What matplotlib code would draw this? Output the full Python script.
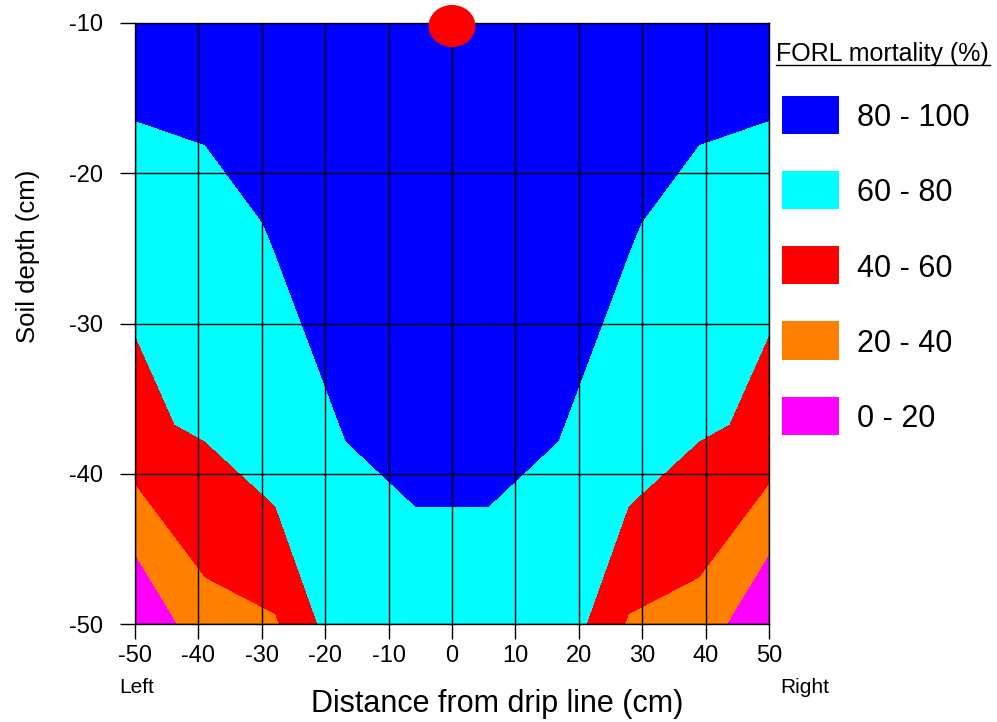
import numpy as np
import matplotlib
matplotlib.use("Agg")
import matplotlib.pyplot as plt
from matplotlib.patches import Ellipse, Rectangle
from matplotlib.lines import Line2D

plt.rcParams['font.family'] = ['Liberation Sans', 'DejaVu Sans']
plt.rcParams['axes.unicode_minus'] = False

# grid of sampling points (cm)
distance = [-50.0, -38.9, -27.8, -16.7, -5.6, 5.6, 16.7, 27.8, 38.9, 50.0]
depth = [-10.0, -23.3, -36.7, -50.0]

# FORL mortality (%), one row per depth
mort_10 = [95.1, 86.4, 92.0, 96.0, 100.0, 100.0, 96.0, 92.0, 86.4, 95.1]
mort_23 = [64.1, 75.9, 80.9, 88.0, 94.0, 94.0, 88.0, 80.9, 75.9, 64.1]
mort_37 = [56.7, 62.5, 75.1, 80.5, 88.0, 88.0, 80.5, 75.1, 62.5, 56.7]
mort_50 = [0.0, 33.1, 38.1, 74.6, 68.7, 68.7, 74.6, 38.1, 33.1, 0.0]

levels = [0, 20, 40, 60, 80, 100]
band_colors = ['#FF00FF', '#FF8000', '#FF0000', '#00FFFF', '#0000FF']
band_labels = ['0 - 20', '20 - 40', '40 - 60', '60 - 80', '80 - 100']

# drip emitter position
drip_x = [0.0]
drip_y = [-10.2]

X, Y = np.meshgrid(distance, depth)
Z = np.array([mort_10, mort_23, mort_37, mort_50])

W, H = 997, 722
fig = plt.figure(figsize=(W / 100, H / 100), dpi=100)
ax = fig.add_axes([135 / W, 1 - 624 / H, 634 / W, 601 / H])

ax.contourf(X, Y, Z, levels=levels, colors=band_colors, antialiased=False)

ax.set_xlim(-50, 50)
ax.set_ylim(-50, -10)
ax.set_xticks(np.arange(-50, 51, 10))
ax.set_yticks(np.arange(-50, -9, 10))
ax.set_axisbelow(False)
ax.grid(True, color='black', lw=1.0)
for s in ax.spines.values():
    s.set_color('black')
    s.set_linewidth(1.0)
ax.tick_params(axis='both', direction='out', length=10.8, width=1.0,
               labelsize=17, color='black')
ax.tick_params(axis='y', pad=12)
ax.tick_params(axis='x', pad=4)

# emitter marker sitting on the top edge
for dx, dy in zip(drip_x, drip_y):
    ax.add_patch(Ellipse((dx, dy), 7.4, 2.8, facecolor='#FF0000',
                         edgecolor='none', clip_on=False, zorder=5))

ax.set_xlabel('Distance from drip line (cm)', fontsize=22)
ax.xaxis.set_label_coords((497.5 - 135) / 634, (624 - 712) / 601)
ax.xaxis.label.set_va('baseline')
ax.set_ylabel('Soil depth (cm)', fontsize=18.5)
ax.yaxis.set_label_coords((28 - 135) / 634, (624 - 256) / 601)
ax.yaxis.label.set_va('center')

fig.text(119.6 / W, 1 - 692.7 / H, 'Left', fontsize=15, va='baseline')
fig.text(780 / W, 1 - 692.7 / H, 'Right', fontsize=15, va='baseline')

# legend drawn by hand, top band first
fig.text(776 / W, 1 - 61 / H, 'FORL mortality (%)', fontsize=18, va='baseline')
fig.add_artist(Line2D([776 / W, 990 / W], [1 - 64.5 / H, 1 - 64.5 / H],
                      color='black', lw=1.0))
for k, (col, lab) in enumerate(zip(band_colors[::-1], band_labels[::-1])):
    top = 95.7 + 75.2 * k
    fig.add_artist(Rectangle((781.7 / W, 1 - (top + 38.3) / H), 57.6 / W, 38.3 / H,
                             facecolor=col, edgecolor='none'))
    fig.text(857 / W, 1 - (top + 19) / H, lab, fontsize=22, va='center_baseline')

fig.savefig('out.png', dpi=100)
